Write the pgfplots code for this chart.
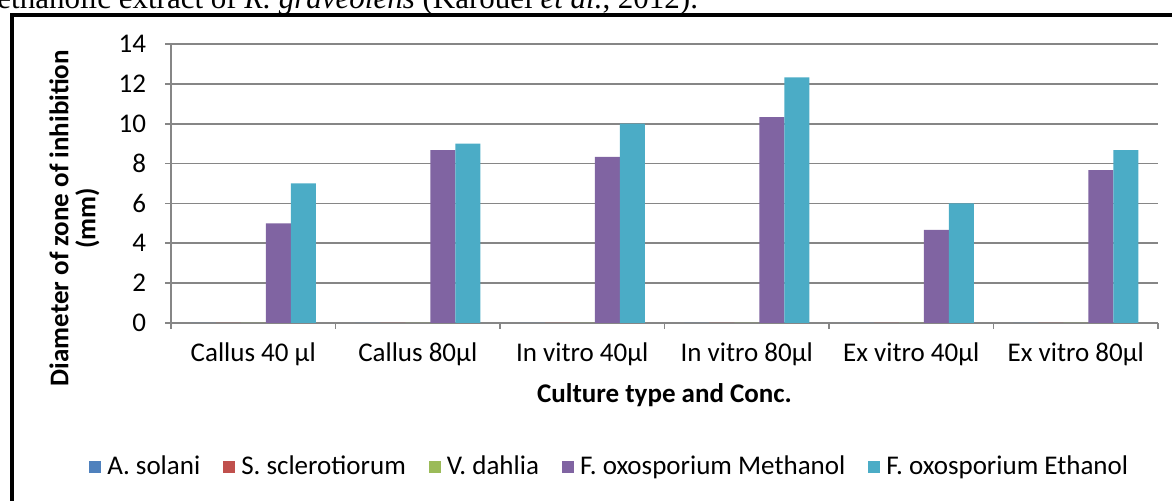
\documentclass[border=0pt]{standalone}
\usepackage{fontspec}
\setmainfont{Carlito}
\newfontfamily\serif{Liberation Serif}
\usepackage{pgfplots}
\pgfplotsset{compat=1.18}
\definecolor{cblue}{HTML}{4F81BD}
\definecolor{cred}{HTML}{C0504D}
\definecolor{cgreen}{HTML}{9BBB59}
\definecolor{cpurple}{HTML}{8064A2}
\definecolor{caqua}{HTML}{4BACC6}
\definecolor{axgray}{HTML}{868686}
\begin{document}
\begin{tikzpicture}
% page = 1172 x 501 px at 0.5pt per px
\useasboundingbox (0pt,0pt) rectangle (586pt,-250.5pt);
\node[anchor=base west, inner sep=0pt, font=\serif\fontsize{15.5}{17}\selectfont] at (-1.5pt,-4.5pt)
  {ethanolic extract of \textit{R. graveolens} (Karouei \textit{et al.}, 2012).};
\draw[line width=2pt] (6pt,-260pt) -- (6pt,-7.75pt) -- (600pt,-7.75pt);
\begin{axis}[
  at={(85.5pt,-161.5pt)}, anchor=south west,
  width=493.5pt, height=139.5pt, scale only axis,
  xmin=-0.5, xmax=5.5, ymin=0, ymax=14, ytick={0,2,...,14},
  axis x line*=bottom, axis y line*=left,
  axis line style={draw=axgray, line width=0.8pt, -},
  ymajorgrids, grid style={draw=axgray, line width=0.8pt},
  xtick={0,...,5},
  xticklabels={Callus 40 µl, Callus 80µl, In vitro 40µl, In vitro 80µl, Ex vitro 40µl, Ex vitro 80µl},
  minor xtick={-0.5,0.5,...,5.5},
  tick align=outside, major tick length=3pt, minor tick length=3pt,
  major x tick style={draw=none},
  minor x tick style={draw=axgray, line width=0.8pt},
  major y tick style={draw=axgray, line width=0.8pt},
  tick label style={font=\fontsize{13.5}{15}\selectfont},
  xticklabel style={yshift=-3.5pt},
  yticklabel style={xshift=-6pt},
  /pgf/number format/assume math mode=true,
  ybar=0pt, bar width=12.5pt,
  ylabel={\begin{tabular}{@{}c@{}}Diameter of zone of inhibition\\[-1.5pt](mm)\end{tabular}},
  ylabel style={font=\bfseries\fontsize{13.5}{15}\selectfont, inner sep=0pt,
    at={(axis description cs:-0.0963,0.376)}, anchor=center},
  xlabel={Culture type and Conc.},
  xlabel style={font=\bfseries\fontsize{13.5}{15}\selectfont,
    at={(axis description cs:0.5,-0.258)}, anchor=center},
  legend style={at={(0.445,-0.516)}, anchor=center, draw=none, fill=none,
    legend columns=5, font=\fontsize{13.5}{15}\selectfont,
    /tikz/every odd column/.append style={column sep=1.5pt},
    /tikz/every even column/.append style={column sep=10pt},
    nodes={inner sep=1.5pt}},
  legend image code/.code={\path[#1, draw=none] (0pt,-3pt) rectangle (6pt,3pt);},
]
\addplot[fill=cblue, draw=none] coordinates {(0,0) (1,0) (2,0) (3,0) (4,0) (5,0)};
\addplot[fill=cred, draw=none] coordinates {(0,0) (1,0) (2,0) (3,0) (4,0) (5,0)};
\addplot[fill=cgreen, draw=none] coordinates {(0,0) (1,0) (2,0) (3,0) (4,0) (5,0)};
\addplot[fill=cpurple, draw=none] coordinates {(0,5) (1,8.67) (2,8.33) (3,10.33) (4,4.67) (5,7.67)};
\addplot[fill=caqua, draw=none] coordinates {(0,7) (1,9) (2,10) (3,12.33) (4,6) (5,8.67)};
\legend{A. solani, S. sclerotiorum, V. dahlia, F. oxosporium Methanol, F. oxosporium Ethanol}
\end{axis}
\end{tikzpicture}
\end{document}
